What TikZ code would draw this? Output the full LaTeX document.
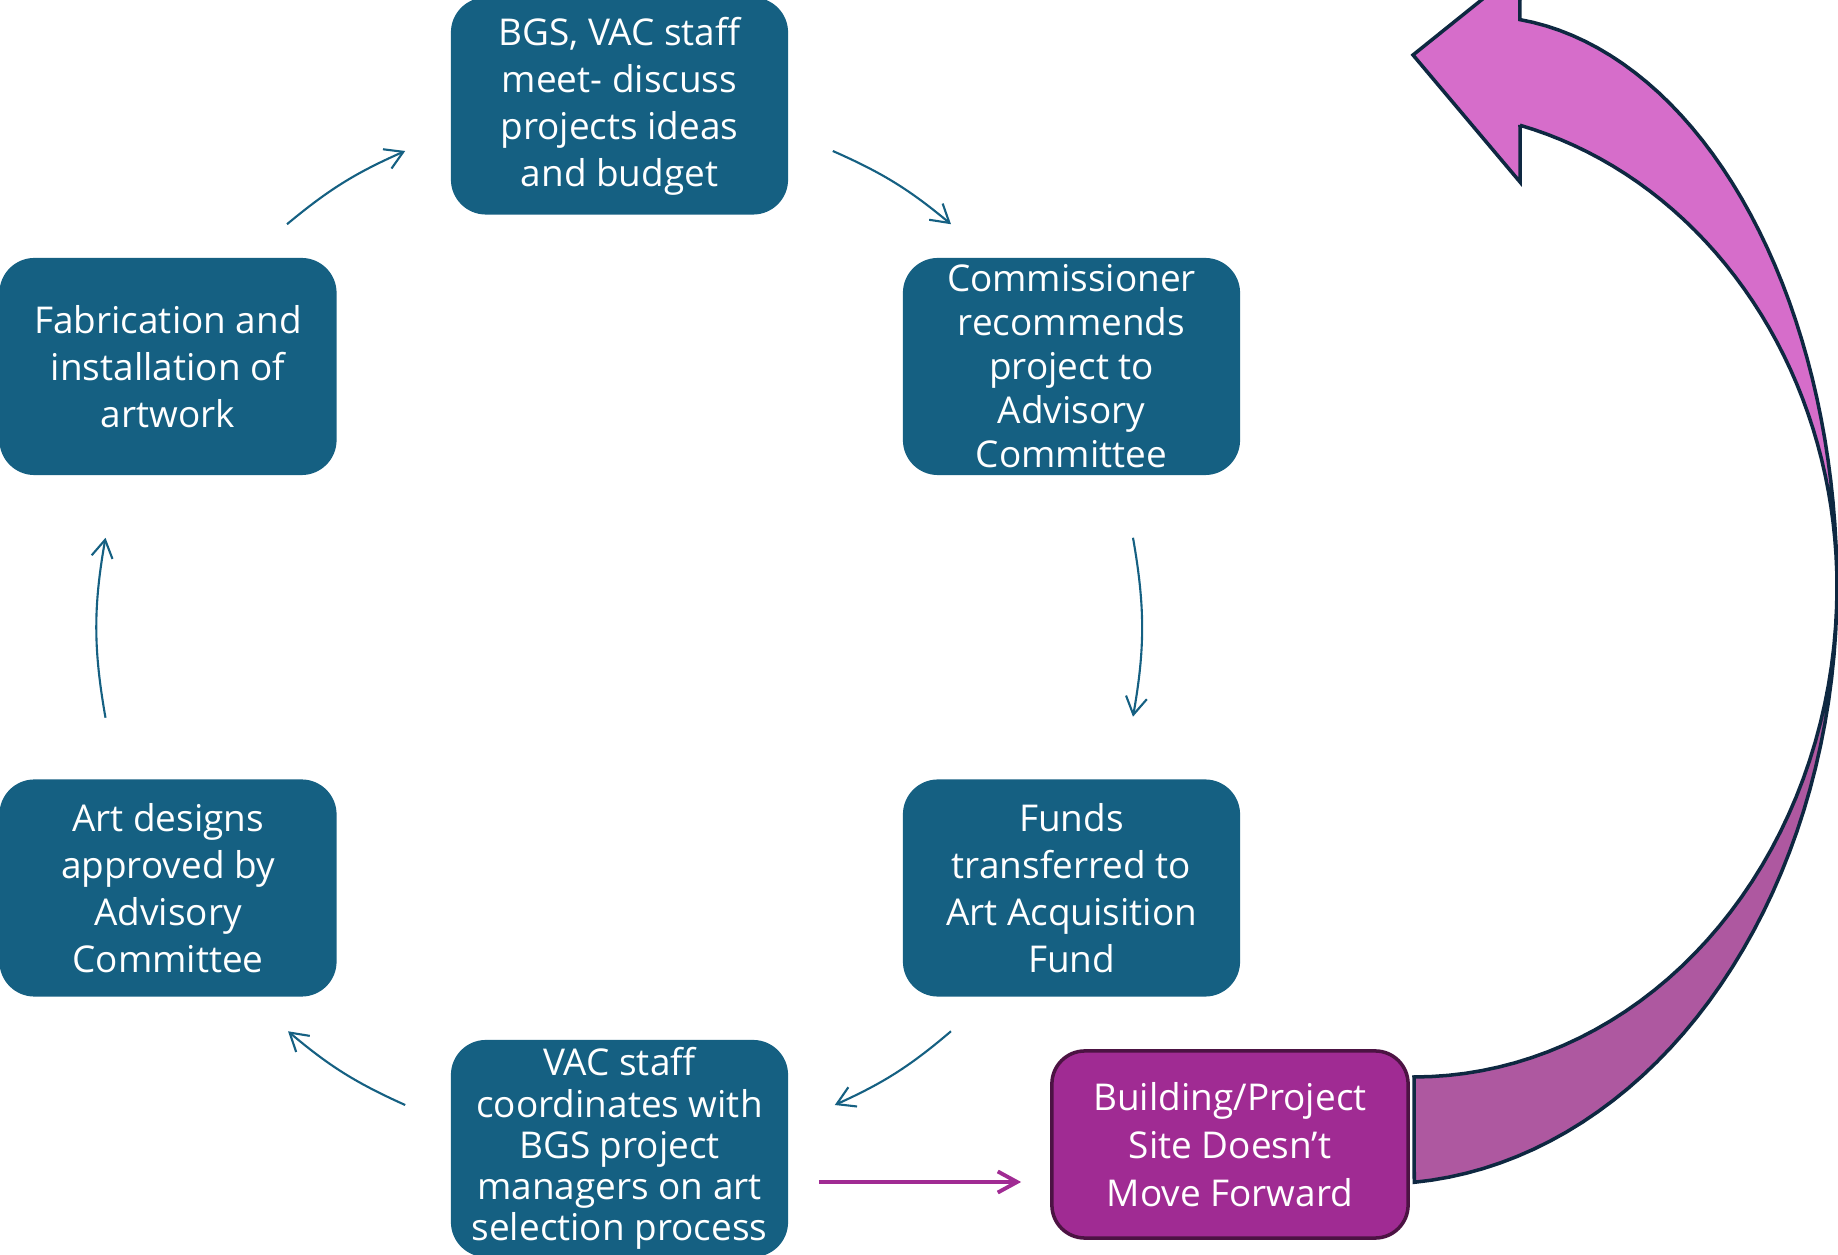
\documentclass[tikz,border=0pt]{standalone}
\usepackage{fontspec}
\setmainfont{Open Sans}
\usetikzlibrary{arrows.meta}
\definecolor{boxteal}{HTML}{156082}
\definecolor{stopmagenta}{HTML}{A02B93}
\definecolor{stopedge}{HTML}{4C1343}
\definecolor{loopedge}{HTML}{0E2841}
\definecolor{looplight}{HTML}{D66DCA}
\definecolor{loopdark}{HTML}{AE58A0}

\begin{document}
\begin{tikzpicture}[x=0.01cm, y=-0.01cm,
    stage/.style={fill=boxteal, text=white, rounded corners=0.35cm, align=center,
      minimum width=3.37cm, minimum height=2.17cm, inner sep=0pt},
    cycarrow/.style={draw=boxteal, line width=0.6pt, -{Straight Barb[length=5pt, width=6pt]}},
    stoparrow/.style={draw=stopmagenta, line width=1.1pt, -{Straight Barb[length=5.5pt, width=6pt]}},
    loopband/.style={draw=loopedge, line width=1pt, line join=miter}]
    \useasboundingbox (0,0) rectangle (1838,1255);
    \clip (0,0) rectangle (1838,1255);

    % cycle of stages
    \node[stage, font=\fontsize{10.5}{13.4}\selectfont] (meet) at (619.5,106)
      {BGS, VAC staff\\meet- discuss\\projects ideas\\and budget};
    \node[stage, font=\fontsize{10.5}{12.5}\selectfont] (comm) at (1071.5,366.5)
      {Commissioner\\recommends\\project to\\Advisory\\Committee};
    \node[stage, font=\fontsize{10.5}{13.4}\selectfont] (funds) at (1071.5,888)
      {Funds\\transferred to\\Art Acquisition\\Fund};
    \node[stage, font=\fontsize{10.5}{11.7}\selectfont] (coord) at (619.5,1148.5)
      {VAC staff\\coordinates with\\BGS project\\managers on art\\selection process};
    \node[stage, font=\fontsize{10.5}{13.4}\selectfont] (designs) at (168,888)
      {Art designs\\approved by\\Advisory\\Committee};
    \node[stage, font=\fontsize{10.5}{13.4}\selectfont] (fabric) at (168,366.5)
      {Fabrication and\\installation of\\artwork};

    % side branch
    \node[fill=stopmagenta, draw=stopedge, line width=1pt, text=white, rounded corners=0.33cm,
      align=center, minimum width=3.56cm, minimum height=1.87cm, inner sep=0pt,
      font=\fontsize{10.5}{13.7}\selectfont] (stall) at (1230,1144.5)
      {Building/Project\\Site Doesn’t\\Move Forward};

    \draw[cycarrow] ([shift={(119,-33)}]fabric.north) to[bend left=8] ([shift={(-45,45)}]meet.west);
    \draw[cycarrow] ([shift={(44,45)}]meet.east) to[bend left=8] ([shift={(-120.5,-33)}]comm.north);
    \draw[cycarrow] ([shift={(61.5,62)}]comm.south) to[bend left=10] ([shift={(61.5,-62)}]funds.north);
    \draw[cycarrow] ([shift={(-120.5,34)}]funds.south) to[bend left=8] ([shift={(46,-43.5)}]coord.east);
    \draw[cycarrow] ([shift={(-45,-43.5)}]coord.west) to[bend left=8] ([shift={(120,34)}]designs.south);
    \draw[cycarrow] ([shift={(-62.5,-61)}]designs.north) to[bend left=10] ([shift={(-62.5,62)}]fabric.south);

    \draw[stoparrow] ([shift={(30,33.5)}]coord.east) -- ([shift={(-29,37.5)}]stall.west);

    % curved return arrow
    \filldraw[loopband, fill=loopdark] (1837,587)
      -- plot[domain=0:85.7, variable=\t, samples=40] ({1380+457*cos(\t)},{587+597*sin(\t)})
      -- (1414,1077)
      -- plot[domain=90:0, variable=\t, samples=40] ({1414+423*cos(\t)},{587+490*sin(\t)})
      -- cycle;
    \filldraw[loopband, fill=looplight] (1837,587)
      -- plot[domain=0:83.57, variable=\t, samples=40] ({1480+357*cos(\t)},{587-571*sin(\t)})
      -- (1520,-31) -- (1413,55) -- (1520,182) -- (1520,125)
      -- plot[domain=75.49:0, variable=\t, samples=40] ({1414+423*cos(\t)},{587-477*sin(\t)})
      -- cycle;
  \end{tikzpicture}
\end{document}
